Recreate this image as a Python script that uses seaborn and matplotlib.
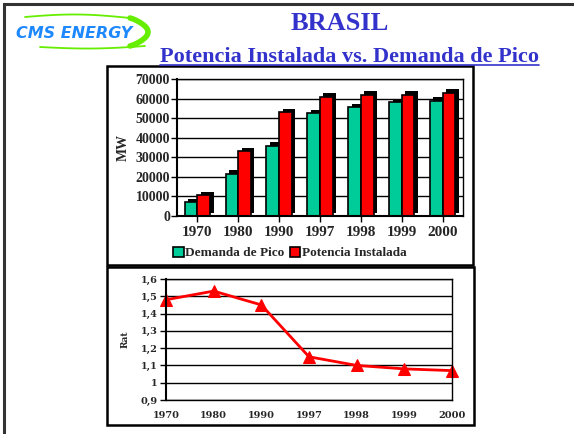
import numpy as np
import pandas as pd
import seaborn as sns
import matplotlib.pyplot as plt
import matplotlib.patheffects as pe
from matplotlib.patches import Rectangle
from matplotlib.lines import Line2D

# data
years = ["1970", "1980", "1990", "1997", "1998", "1999", "2000"]
demanda = [7000, 21500, 36000, 52500, 55500, 58000, 59000]
potencia = [10500, 33000, 53000, 61000, 62000, 62000, 63000]
ratio = [1.48, 1.53, 1.45, 1.15, 1.10, 1.08, 1.07]
series_names = ["Demanda de Pico", "Potencia Instalada"]
bar_ticks = [0, 10000, 20000, 30000, 40000, 50000, 60000, 70000]
line_ticks = [0.9, 1.0, 1.1, 1.2, 1.3, 1.4, 1.5, 1.6]
line_tick_labels = ["0,9", "1", "1,1", "1,2", "1,3", "1,4", "1,5", "1,6"]

GREEN = "#00CC99"
RED = "#FF0000"
BLUE = "#3333CC"
LOGO_GREEN = "#66EE00"
SERIF = "Liberation Serif"

W, H = 574, 434


def fx(px):
    return px / W


def fy(py):
    return 1 - py / H


def main():
    sns.set_theme(style="white")
    plt.rcParams["font.family"] = [SERIF, "DejaVu Sans"]

    fig = plt.figure(figsize=(W / 100, H / 100), dpi=100)
    fig.patch.set_facecolor("white")

    # slide frame and panel boxes
    fig.add_artist(Rectangle((fx(4), fy(440)), 1.2, fy(4) - fy(440), transform=fig.transFigure,
                             fill=False, lw=2.2, edgecolor="#333333"))
    fig.add_artist(Rectangle((fx(107), fy(265)), fx(473) - fx(107), fy(66) - fy(265),
                             transform=fig.transFigure, fill=False, lw=1.8, edgecolor="black"))
    fig.add_artist(Rectangle((fx(107), fy(425)), fx(474) - fx(107), fy(267) - fy(425),
                             transform=fig.transFigure, fill=False, lw=1.8, edgecolor="black"))

    # logo (pixel coords inside its own axes, y pointing down)
    lax = fig.add_axes([fx(10), fy(52), fx(160) - fx(10), fy(10) - fy(52)])
    lax.set_xlim(10, 160)
    lax.set_ylim(52, 10)
    lax.axis("off")
    t = np.linspace(0, 1, 40)
    lax.plot(25 + 105 * t, 17 - 3 * np.sin(np.pi * t) + 1 * t, color=LOGO_GREEN, lw=1.3,
             solid_capstyle="round")
    lax.plot(40 + 105 * t, 47 + 2 * np.sin(np.pi * t) - 1 * t, color=LOGO_GREEN, lw=1.3,
             solid_capstyle="round")
    lax.plot(130 + 18 * np.sin(np.pi * t) ** 0.8, 18 + 28 * t, color=LOGO_GREEN, lw=4,
             solid_capstyle="round")
    lax.text(16, 33, "CMS ENERGY", color="#1E88FF", fontsize=11.5, fontweight="bold",
             fontstyle="italic", family="DejaVu Sans", va="center", ha="left")

    # titles
    fig.text(fx(340), fy(23), "BRASIL", ha="center", va="center", fontsize=19,
             fontweight="bold", color=BLUE, family=SERIF)
    sub = fig.text(fx(349), fy(57), "Potencia Instalada vs. Demanda de Pico", ha="center",
                   va="center", fontsize=16, fontweight="bold", color=BLUE, family=SERIF)

    # bar chart
    df = pd.DataFrame({
        "year": years * 2,
        "MW": demanda + potencia,
        "serie": [series_names[0]] * len(years) + [series_names[1]] * len(years),
    })
    ax1 = fig.add_axes([fx(177), fy(216), fx(463) - fx(177), fy(79) - fy(216)])
    sns.barplot(data=df, x="year", y="MW", hue="serie", palette=[GREEN, RED], width=0.62,
                saturation=1, edgecolor="black", linewidth=1.2, ax=ax1)
    for p in ax1.patches:
        p.set_path_effects([pe.SimplePatchShadow(offset=(2.5, 2.5), shadow_rgbFace="black", alpha=1),
                            pe.Normal()])
    ax1.set_ylim(0, 70000)
    ax1.set_xlim(-0.5, len(years) - 0.5)
    ax1.set_yticks(bar_ticks)
    ax1.set_yticklabels([str(v) for v in bar_ticks], fontsize=10, fontweight="bold", family=SERIF)
    ax1.set_xticks(range(len(years)))
    ax1.set_xticklabels(years, fontsize=11, fontweight="bold", family=SERIF)
    ax1.yaxis.grid(True, color="black", linewidth=1)
    ax1.set_axisbelow(True)
    for s in ax1.spines.values():
        s.set_color("black")
        s.set_linewidth(1)
    ax1.spines["left"].set_linewidth(1.5)
    ax1.spines["bottom"].set_linewidth(1.5)
    ax1.tick_params(axis="y", left=True, length=4, width=1, pad=1, color="black")
    ax1.tick_params(axis="x", bottom=True, length=4, width=1, pad=3, color="black")
    ax1.set_xlabel("")
    ax1.set_ylabel("MW", fontsize=10, fontweight="bold", family=SERIF, labelpad=4)
    ax1.get_legend().remove()
    handles = [Rectangle((0, 0), 1, 1, facecolor=c, edgecolor="black", lw=1.2) for c in (GREEN, RED)]
    fig.legend(handles, series_names, loc="center", bbox_to_anchor=(fx(290), fy(253)),
               ncol=2, frameon=False, handlelength=0.8, handleheight=0.8, handletextpad=0.1,
               columnspacing=0.4, prop={"family": SERIF, "weight": "bold", "size": 9.5})

    # ratio line chart
    ax2 = fig.add_axes([fx(166), fy(400), fx(452) - fx(166), fy(279) - fy(400)])
    sns.lineplot(x=years, y=ratio, color=RED, linewidth=2, marker="^", markersize=9,
                 markeredgecolor=RED, ax=ax2)
    ax2.set_xlim(0, len(years) - 1)
    ax2.set_ylim(0.9, 1.6)
    ax2.set_yticks(line_ticks)
    ax2.set_yticklabels(line_tick_labels, fontsize=7, fontweight="bold", family="DejaVu Serif")
    ax2.set_xticks(range(len(years)))
    ax2.set_xticklabels(years, fontsize=7, fontweight="bold", family="DejaVu Serif")
    ax2.yaxis.grid(True, color="black", linewidth=1)
    ax2.set_axisbelow(True)
    for s in ax2.spines.values():
        s.set_color("black")
        s.set_linewidth(1)
    ax2.spines["left"].set_linewidth(1.5)
    ax2.tick_params(axis="y", left=True, length=4, width=1, pad=2, color="black")
    ax2.tick_params(axis="x", bottom=False, pad=2)
    ax2.set_ylabel("Rat", fontsize=6.5, fontweight="bold", family="DejaVu Serif", labelpad=8)
    for lbl in ax2.get_xticklabels() + ax2.get_yticklabels():
        lbl.set_clip_on(False)
    for ln in ax2.lines:
        ln.set_clip_on(False)

    # underline the subtitle
    fig.canvas.draw()
    bb = sub.get_window_extent().transformed(fig.transFigure.inverted())
    fig.add_artist(Line2D([bb.x0, bb.x1], [bb.y0 + 0.004, bb.y0 + 0.004], transform=fig.transFigure,
                          color=BLUE, lw=1.2))

    fig.savefig("out.png", dpi=100)


if __name__ == "__main__":
    main()
